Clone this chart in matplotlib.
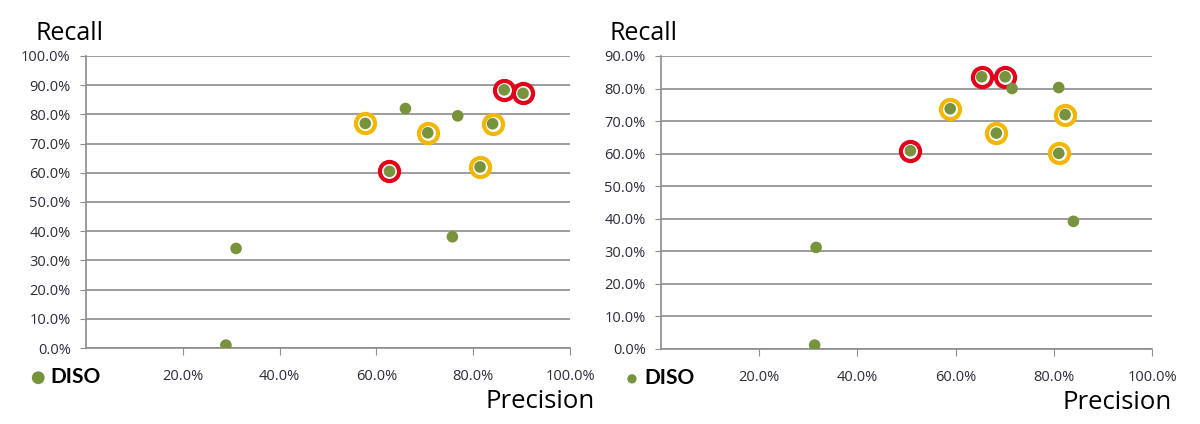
import matplotlib.pyplot as plt
from matplotlib.ticker import PercentFormatter

plt.rcParams['font.family'] = ['Open Sans', 'DejaVu Sans']

# 数据 (Precision %, Recall %)
left_precision = [57.7, 66.0, 70.6, 62.7, 76.8, 81.4, 84.0, 86.4, 90.3, 31.0, 75.7, 28.9]
left_recall = [76.9, 82.0, 73.7, 60.5, 79.5, 62.0, 76.8, 88.4, 87.2, 34.1, 38.1, 1.0]
left_mark = ['gold', '', 'gold', 'red', '', 'gold', 'gold', 'red', 'red', '', '', '']

right_precision = [50.8, 58.9, 65.3, 70.1, 71.5, 68.3, 81.0, 82.3, 81.0, 31.6, 31.3, 84.0]
right_recall = [60.9, 73.8, 83.6, 83.6, 80.0, 66.3, 80.3, 72.0, 60.1, 31.2, 1.2, 39.2]
right_mark = ['red', 'gold', 'red', 'red', '', 'gold', '', 'gold', 'gold', '', '', '']

series_name = 'DISO'
x_ticks = [20, 40, 60, 80, 100]

green = '#77933C'
ring_colors = {'red': '#E3001B', 'gold': '#F2B705'}
grid_gray = '#8C8C8C'
text_dark = '#2B2B3B'

fig = plt.figure(figsize=(12, 4.24), dpi=100)
ax1 = fig.add_axes([0.0717, 0.1792, 0.4033, 0.6888])
ax2 = fig.add_axes([0.5508, 0.1769, 0.4092, 0.6911])


def draw(ax, px, py, marks, ymax, prec_x, leg_x, leg_scale):
    # 圆圈标记
    for kind, col in ring_colors.items():
        xs = [x for x, m in zip(px, marks) if m == kind]
        ys = [y for y, m in zip(py, marks) if m == kind]
        ax.scatter(xs, ys, s=190, facecolor='white', edgecolor=col, linewidth=3, zorder=3)
    h = ax.scatter(px, py, s=70, color=green, edgecolor='none', zorder=4, label=series_name)

    ax.set_xlim(0, 100)
    ax.set_ylim(0, ymax)
    ax.set_xticks(x_ticks)
    ax.set_yticks(range(0, ymax + 1, 10))
    ax.xaxis.set_major_formatter(PercentFormatter(100, decimals=1))
    ax.yaxis.set_major_formatter(PercentFormatter(100, decimals=1))
    ax.grid(axis='y', color=grid_gray, linewidth=1.2)
    ax.set_axisbelow(True)
    for s in ['top', 'right']:
        ax.spines[s].set_visible(False)
    for s in ['left', 'bottom']:
        ax.spines[s].set_color(grid_gray)
        ax.spines[s].set_linewidth(1.2)
    ax.tick_params(axis='y', length=4, color=grid_gray, pad=7, labelsize=10.5, labelcolor=text_dark)
    ax.tick_params(axis='x', length=5, color=grid_gray, pad=10, labelsize=10.5, labelcolor=text_dark)

    ax.text(-0.105, 1.035, 'Recall', transform=ax.transAxes, fontsize=18, color='black',
            ha='left', va='bottom')
    ax.text(prec_x, -0.14, 'Precision', transform=ax.transAxes, fontsize=18.5, color='black',
            ha='right', va='top')
    leg = ax.legend(handles=[h], loc='center left', bbox_to_anchor=(leg_x, -0.1),
                    frameon=False, borderpad=0, borderaxespad=0, handletextpad=0.2,
                    handlelength=0.8, markerscale=leg_scale,
                    prop={'family': 'Lato', 'weight': 'bold', 'size': 15})
    for t in leg.get_texts():
        t.set_color('black')


draw(ax1, left_precision, left_recall, left_mark, 100, 1.052, -0.116, 1.1)
draw(ax2, right_precision, right_recall, right_mark, 90, 1.041, -0.076, 0.8)

plt.savefig('out.png', dpi=100)
